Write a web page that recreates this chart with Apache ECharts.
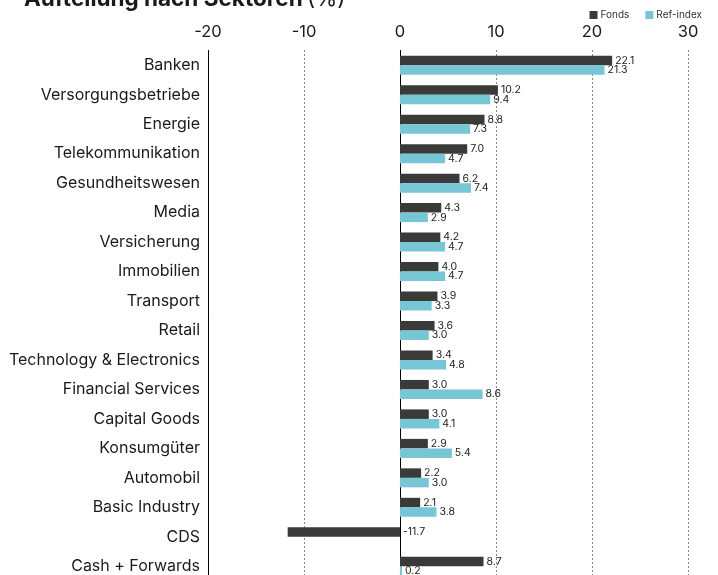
<!DOCTYPE html>
<html>
<head>
<meta charset="utf-8">
<script src="https://cdn.jsdelivr.net/npm/echarts@6/dist/echarts.min.js"></script>
<style>html,body{margin:0;padding:0;background:#fff;overflow:hidden;}#c{width:718px;height:581px;}</style>
</head>
<body>
<div id="c"></div>
<script>
var categories = ["Banken","Versorgungsbetriebe","Energie","Telekommunikation","Gesundheitswesen","Media","Versicherung","Immobilien","Transport","Retail","Technology & Electronics","Financial Services","Capital Goods","Konsumgüter","Automobil","Basic Industry","CDS","Cash + Forwards"];
var fonds = [22.1,10.2,8.8,7.0,6.2,4.3,4.2,4.0,3.9,3.6,3.4,3.0,3.0,2.9,2.2,2.1,-11.7,8.7];
var refIndex = [21.3,9.4,7.3,4.7,7.4,2.9,4.7,4.7,3.3,3.0,4.8,8.6,4.1,5.4,3.0,3.8,null,0.2];
var xTicks = [-20,-10,0,10,20,30];

var FONT = "Inter, 'Liberation Sans', sans-serif";
var chart = echarts.init(document.getElementById('c'));
function lbl(v){ return v.value.toFixed(1); }
chart.setOption({
  animation: false,
  textStyle: { fontFamily: FONT },
  title: {
    text: '{b|Aufteilung nach Sektoren} {n|(%)}',
    left: 19, top: -17,
    textStyle: { rich: {
      b: { fontSize: 22.5, fontWeight: 'bold', color: '#1a1a1a', fontFamily: FONT },
      n: { fontSize: 22.5, fontWeight: 'normal', color: '#1a1a1a', fontFamily: FONT }
    } }
  },
  legend: {
    right: 11, top: 5, itemWidth: 8, itemHeight: 8, itemGap: 16,
    icon: 'rect',
    textStyle: { fontSize: 10, color: '#333', padding: [0,0,0,-2] },
    data: ['Fonds','Ref-index']
  },
  grid: { left: 208, right: 30, top: 50.5, bottom: 0, containLabel: false },
  xAxis: {
    type: 'value', position: 'top', min: xTicks[0], max: xTicks[xTicks.length-1], interval: 10,
    axisLine: { show: false }, axisTick: { show: false },
    axisLabel: { fontSize: 16.5, color: '#1a1a1a', margin: 10 },
    splitLine: { show: true, lineStyle: { type: [1, 3], color: '#111', width: 1 } }
  },
  yAxis: [{
    type: 'category', data: categories, inverse: true,
    axisLine: { show: true, onZero: true, lineStyle: { color: '#000', width: 1 } },
    axisTick: { show: false },
    axisLabel: { show: false }
  }, {
    type: 'category', data: categories, inverse: true, position: 'left',
    axisLine: { show: true, onZero: false, lineStyle: { color: '#000', width: 1 } },
    axisTick: { show: false },
    axisLabel: { fontSize: 16, color: '#1a1a1a', margin: 8 }
  }],
  series: [{
    name: 'Fonds', type: 'bar', data: fonds, yAxisIndex: 0,
    barWidth: 9.5, barGap: '0%',
    itemStyle: { color: '#3a3b39' },
    label: { show: true, position: 'right', distance: 3, fontSize: 10.5, color: '#222', formatter: lbl }
  }, {
    name: 'Ref-index', type: 'bar', data: refIndex, yAxisIndex: 0,
    barWidth: 9.5, barGap: '0%',
    itemStyle: { color: '#76c6d6' },
    label: { show: true, position: 'right', distance: 3, fontSize: 10.5, color: '#222', formatter: lbl }
  }]
});
</script>
</body>
</html>
